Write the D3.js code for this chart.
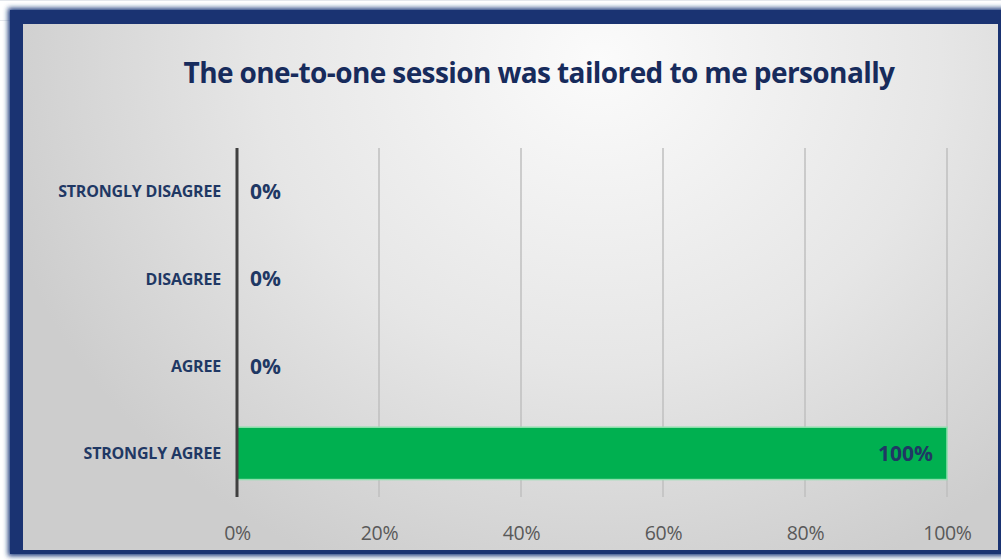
<!DOCTYPE html>
<html>
<head>
<meta charset="utf-8">
<script src="https://cdn.jsdelivr.net/npm/d3@7"></script>
<style>
  html, body { margin: 0; padding: 0; background: #ffffff; }
  svg { display: block; }
</style>
</head>
<body>
<svg id="chart" width="1001" height="560"></svg>
<script>
// Survey responses
const title = "The one-to-one session was tailored to me personally";
const categories = ["STRONGLY DISAGREE", "DISAGREE", "AGREE", "STRONGLY AGREE"];
const values = [0, 0, 0, 1.0];
const tickValues = [0, 0.2, 0.4, 0.6, 0.8, 1.0];

const W = 1001, H = 560;
const svg = d3.select("#chart");
const defs = svg.append("defs");

// Frame glow
const blur = defs.append("filter").attr("id", "frameBlur")
  .attr("x", "-5%").attr("y", "-5%").attr("width", "110%").attr("height", "110%");
blur.append("feGaussianBlur").attr("stdDeviation", 2.5);

// Panel shading
const grad = defs.append("radialGradient").attr("id", "panelFill")
  .attr("gradientUnits", "userSpaceOnUse")
  .attr("cx", 600).attr("cy", 60).attr("r", 620)
  .attr("gradientTransform", "translate(600,60) scale(1,0.9) translate(-600,-60)");
grad.append("stop").attr("offset", 0).attr("stop-color", "#fbfbfb");
grad.append("stop").attr("offset", 0.55).attr("stop-color", "#e6e6e6");
grad.append("stop").attr("offset", 1).attr("stop-color", "#cdcdcd");

// faint sheet grid behind the frame
const sheet = svg.append("g").attr("stroke", "#e4e7ec").attr("stroke-width", 1);
[0.5, 20.5].forEach(y => sheet.append("line").attr("x1", 0).attr("x2", W).attr("y1", y).attr("y2", y));

svg.append("rect")
  .attr("x", 8).attr("y", 8).attr("width", W - 8 + 6).attr("height", 548)
  .attr("fill", "#1d3a7c").attr("filter", "url(#frameBlur)");
svg.append("rect")
  .attr("x", 10).attr("y", 10).attr("width", W).attr("height", 544)
  .attr("fill", "#1a3372");

svg.append("rect")
  .attr("x", 23).attr("y", 24).attr("width", 975).attr("height", 526)
  .attr("fill", "url(#panelFill)");

// Plot area
const margin = { left: 237, right: 54, top: 148, bottom: 63 };
const x = d3.scaleLinear().domain([0, 1]).range([margin.left, W - margin.right]);
const y = d3.scaleBand().domain(categories).range([margin.top, H - margin.bottom]).paddingInner(0.4).paddingOuter(0.2);

// Vertical gridlines
svg.append("g").selectAll("line")
  .data(tickValues.slice(1))
  .join("line")
  .attr("x1", d => x(d)).attr("x2", d => x(d))
  .attr("y1", margin.top).attr("y2", H - margin.bottom)
  .attr("stroke", "#bfbfbf").attr("stroke-width", 1.5);

// Bars
svg.append("g").selectAll("rect")
  .data(categories.map((c, i) => ({ c, v: values[i] })).filter(d => d.v > 0))
  .join("rect")
  .attr("x", x(0)).attr("y", d => y(d.c))
  .attr("width", d => x(d.v) - x(0)).attr("height", y.bandwidth())
  .attr("fill", "#00b050").attr("stroke", "#8fe0ae").attr("stroke-width", 1.5);

// Category axis line
svg.append("line")
  .attr("x1", x(0)).attr("x2", x(0))
  .attr("y1", margin.top).attr("y2", H - margin.bottom)
  .attr("stroke", "#404040").attr("stroke-width", 3);

// Value axis tick labels
const xAxis = d3.axisBottom(x).tickValues(tickValues).tickFormat(d3.format(".0%")).tickSize(0).tickPadding(0);
const gx = svg.append("g")
  .attr("transform", `translate(0,${H - margin.bottom + 43})`)
  .call(xAxis);
gx.select(".domain").remove();
gx.selectAll("text")
  .attr("dy", 0)
  .attr("fill", "#595959")
  .style("font-family", "'Open Sans', sans-serif")
  .style("font-size", "19.5px")
  .style("letter-spacing", "-0.3px");

// Category labels
svg.append("g").selectAll("text")
  .data(categories)
  .join("text")
  .attr("x", x(0) - 16)
  .attr("y", d => y(d) + y.bandwidth() / 2)
  .attr("dy", "0.36em")
  .attr("text-anchor", "end")
  .attr("fill", "#1f3864")
  .style("font-family", "'Open Sans', sans-serif")
  .style("font-weight", 700)
  .style("font-size", "16px")
  .style("letter-spacing", "-0.2px")
  .text(d => d);

// Value labels
const fmt = d3.format(".0%");
svg.append("g").selectAll("text")
  .data(categories.map((c, i) => ({ c, v: values[i] })))
  .join("text")
  .attr("x", d => d.v > 0 ? x(d.v) - 14 : x(d.v) + 13)
  .attr("y", d => y(d.c) + y.bandwidth() / 2)
  .attr("dy", "0.36em")
  .attr("text-anchor", d => d.v > 0 ? "end" : "start")
  .attr("fill", "#1f3864")
  .style("font-family", "'Open Sans', sans-serif")
  .style("font-weight", 700)
  .style("font-size", "21px")
  .style("letter-spacing", "0px")
  .text(d => fmt(d.v));

// Title
svg.append("text")
  .attr("x", 539).attr("y", 83)
  .attr("text-anchor", "middle")
  .attr("fill", "#172b5c")
  .style("font-family", "'Open Sans', sans-serif")
  .style("font-weight", 700)
  .style("font-size", "28px")
  .style("letter-spacing", "-0.6px")
  .text(title);
</script>
</body>
</html>
